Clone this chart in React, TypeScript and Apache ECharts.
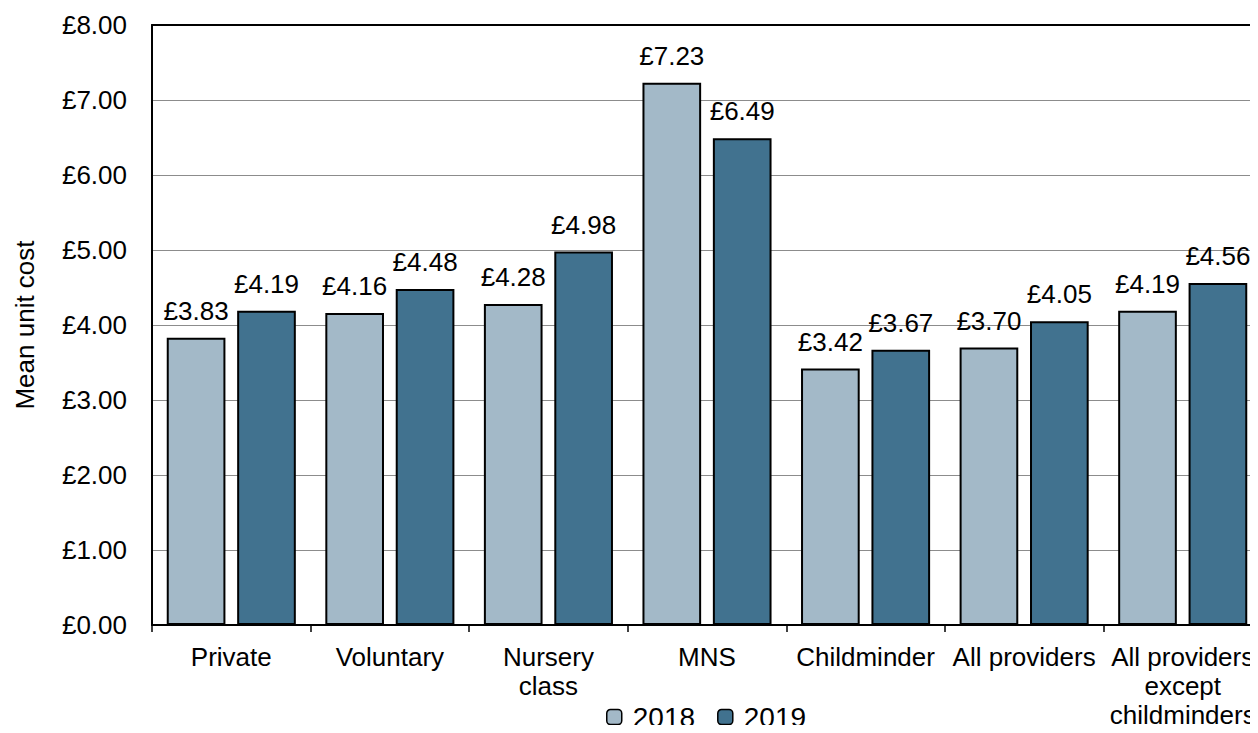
import React, { useEffect, useRef } from "react";
import * as echarts from "echarts";

const categories = [
  "Private",
  "Voluntary",
  "Nursery\nclass",
  "MNS",
  "Childminder",
  "All providers",
  "All providers\nexcept\nchildminders",
];
const values2018 = [3.83, 4.16, 4.28, 7.23, 3.42, 3.7, 4.19];
const values2019 = [4.19, 4.48, 4.98, 6.49, 3.67, 4.05, 4.56];
const yTicks = { min: 0, max: 8, interval: 1 };

const FONT = "'Liberation Sans', Arial, sans-serif";

export default function App() {
  const ref = useRef<HTMLDivElement>(null);
  useEffect(() => {
    if (!ref.current) return;
    const chart = echarts.init(ref.current, null, { renderer: "svg" });
    const label = {
      show: true,
      position: "top" as const,
      distance: 14,
      fontFamily: FONT,
      fontSize: 26,
      color: "#000",
      formatter: (p: any) => "£" + Number(p.value).toFixed(2),
    };
    chart.setOption({
      animation: false,
      textStyle: { fontFamily: FONT },
      grid: {
        left: 152,
        top: 25,
        width: 1110,
        height: 600,
        outerBoundsMode: "none",
        containLabel: false,
      },
      legend: {
        top: 702,
        left: 606,
        padding: 0,
        itemWidth: 15,
        itemHeight: 15,
        itemGap: 22,
        textStyle: { fontFamily: FONT, fontSize: 28, lineHeight: 30, color: "#000", padding: [0, 0, 0, 6] },
        data: [
          { name: "2018", itemStyle: { borderColor: "#000", borderWidth: 1.5 } },
          { name: "2019", itemStyle: { borderColor: "#000", borderWidth: 1.5 } },
        ],
      },
      xAxis: [
        {
          type: "category",
          data: categories,
          axisLine: { lineStyle: { color: "#000", width: 2 } },
          axisTick: { show: true, length: 7, inside: false, lineStyle: { color: "#000", width: 1.5 } },
          axisLabel: {
            fontFamily: FONT,
            fontSize: 26,
            color: "#000",
            lineHeight: 29,
            margin: 17,
            interval: 0,
            hideOverlap: false,
          },
        },
        {
          type: "category",
          position: "top",
          data: categories,
          axisLine: { show: true, lineStyle: { color: "#000", width: 2 } },
          axisTick: { show: false },
          axisLabel: { show: false },
        },
      ],
      yAxis: {
        type: "value",
        min: yTicks.min,
        max: yTicks.max,
        interval: yTicks.interval,
        name: "Mean unit cost",
        nameLocation: "middle",
        nameGap: 114,
        nameTextStyle: { fontFamily: FONT, fontSize: 26, color: "#000" },
        axisLine: { show: true, lineStyle: { color: "#000", width: 2 } },
        axisTick: { show: false },
        axisLabel: {
          fontFamily: FONT,
          fontSize: 26,
          color: "#000",
          margin: 25,
          formatter: (v: number) => "£" + v.toFixed(2),
        },
        splitLine: { lineStyle: { color: "#8c8c8c", width: 1.2 } },
      },
      series: [
        {
          name: "2018",
          type: "bar",
          data: values2018,
          barWidth: "37%",
          barGap: "20%",
          itemStyle: { color: "#A3B9C8", borderColor: "#000", borderWidth: 2 },
          label,
        },
        {
          name: "2019",
          type: "bar",
          data: values2019,
          barWidth: "37%",
          barGap: "20%",
          itemStyle: { color: "#41728F", borderColor: "#000", borderWidth: 2 },
          label,
        },
      ],
    });
    return () => chart.dispose();
  }, []);
  return <div ref={ref} style={{ width: 1258, height: 733, margin: -8 }} />;
}
